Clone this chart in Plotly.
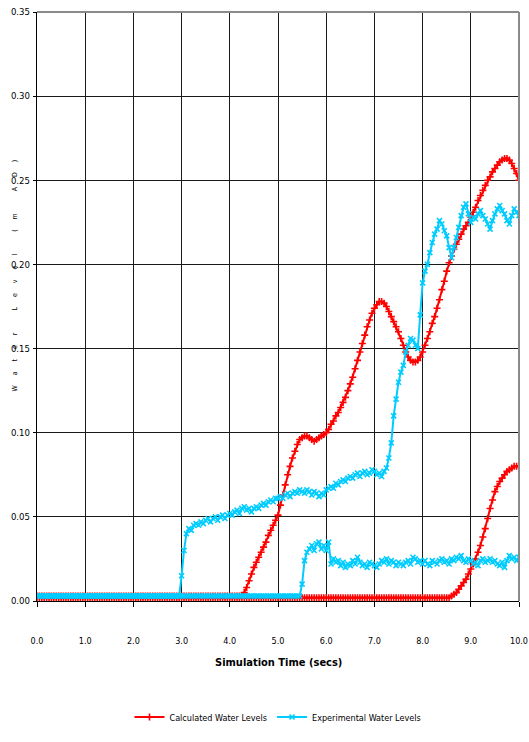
import plotly.graph_objects as go

# Simulation time axis (seconds), 0.05 s steps
time_s = [round(i * 0.05, 2) for i in range(201)]

# Calculated water levels (m AD) at the two gauges
calc_gauge_1 = [0.003] * 86 + [
    0.005, 0.008, 0.012, 0.016, 0.020, 0.023, 0.026, 0.029, 0.032, 0.035,  # 4.30-4.75
    0.039, 0.042, 0.045, 0.048, 0.051, 0.057, 0.063, 0.069, 0.075, 0.080,  # 4.80-5.25
    0.085, 0.089, 0.093, 0.096, 0.097, 0.098, 0.098, 0.097, 0.096, 0.095,  # 5.30-5.75
    0.096, 0.097, 0.098, 0.099, 0.100, 0.102, 0.105, 0.107, 0.110, 0.112,  # 5.80-6.25
    0.115, 0.118, 0.121, 0.125, 0.129, 0.133, 0.138, 0.143, 0.148, 0.153,  # 6.30-6.75
    0.158, 0.163, 0.167, 0.171, 0.174, 0.176, 0.178, 0.178, 0.177, 0.175,  # 6.80-7.25
    0.172, 0.169, 0.166, 0.163, 0.160, 0.156, 0.152, 0.148, 0.145, 0.143,  # 7.30-7.75
    0.142, 0.142, 0.143, 0.145, 0.148, 0.152, 0.156, 0.160, 0.165, 0.169,  # 7.80-8.25
    0.174, 0.179, 0.185, 0.190, 0.196, 0.201, 0.205, 0.209, 0.212, 0.215,  # 8.30-8.75
    0.218, 0.221, 0.223, 0.225, 0.228, 0.231, 0.234, 0.238, 0.241, 0.244,  # 8.80-9.25
    0.247, 0.250, 0.252, 0.255, 0.257, 0.259, 0.261, 0.262, 0.263, 0.263,  # 9.30-9.75
    0.262, 0.260, 0.257, 0.254, 0.250,                                     # 9.80-10.00
]
calc_gauge_2 = [0.002] * 171 + [
    0.002, 0.003, 0.004, 0.005, 0.007, 0.009, 0.011, 0.013, 0.016, 0.019,  # 8.55-9.00
    0.022, 0.025, 0.029, 0.033, 0.038, 0.043, 0.049, 0.055, 0.060, 0.065,  # 9.05-9.50
    0.068, 0.071, 0.073, 0.075, 0.077, 0.078, 0.079, 0.080, 0.080, 0.080,  # 9.55-10.00
]

# Experimental (measured) water levels (m AD) at the same gauges
exp_gauge_1 = [0.003] * 60 + [
    0.015, 0.030, 0.040, 0.043, 0.042, 0.045, 0.046, 0.045, 0.047, 0.046,  # 3.00-3.45
    0.048, 0.049, 0.047, 0.049, 0.050, 0.048, 0.050, 0.051, 0.049, 0.051,  # 3.50-3.95
    0.052, 0.051, 0.053, 0.054, 0.052, 0.055, 0.056, 0.054, 0.055, 0.053,  # 4.00-4.45
    0.055, 0.056, 0.055, 0.057, 0.058, 0.057, 0.059, 0.060, 0.059, 0.061,  # 4.50-4.95
    0.061, 0.062, 0.061, 0.063, 0.064, 0.062, 0.064, 0.065, 0.064, 0.066,  # 5.00-5.45
    0.065, 0.064, 0.066, 0.065, 0.063, 0.065, 0.064, 0.062, 0.064, 0.063,  # 5.50-5.95
    0.066, 0.067, 0.068, 0.067, 0.070, 0.069, 0.071, 0.072, 0.071, 0.073,  # 6.00-6.45
    0.074, 0.073, 0.075, 0.076, 0.074, 0.076, 0.077, 0.075, 0.076, 0.078,  # 6.50-6.95
    0.077, 0.075, 0.076, 0.074, 0.077, 0.079, 0.085, 0.094, 0.110, 0.120,  # 7.00-7.45
    0.130, 0.136, 0.140, 0.148, 0.152, 0.156, 0.155, 0.152, 0.150, 0.170,  # 7.50-7.95
    0.189, 0.196, 0.200, 0.207, 0.213, 0.218, 0.221, 0.226, 0.224, 0.220,  # 8.00-8.45
    0.217, 0.210, 0.204, 0.210, 0.216, 0.222, 0.229, 0.234, 0.236, 0.230,  # 8.50-8.95
    0.225, 0.228, 0.227, 0.230, 0.232, 0.229, 0.227, 0.224, 0.221, 0.226,  # 9.00-9.45
    0.230, 0.233, 0.235, 0.232, 0.230, 0.226, 0.224, 0.229, 0.233, 0.231,  # 9.50-9.95
    0.229,                                                                 # 10.00
]
exp_gauge_2 = [0.003] * 110 + [
    0.010, 0.024, 0.029, 0.031, 0.033, 0.030, 0.034, 0.035, 0.031, 0.033,  # 5.50-5.95
    0.030, 0.035, 0.022, 0.025, 0.023, 0.024, 0.021, 0.023, 0.020, 0.022,  # 6.00-6.45
    0.021, 0.024, 0.022, 0.026, 0.023, 0.021, 0.022, 0.020, 0.023, 0.022,  # 6.50-6.95
    0.021, 0.020, 0.022, 0.024, 0.023, 0.025, 0.022, 0.024, 0.023, 0.021,  # 7.00-7.45
    0.023, 0.022, 0.021, 0.023, 0.024, 0.022, 0.026, 0.025, 0.023, 0.024,  # 7.50-7.95
    0.022, 0.024, 0.022, 0.021, 0.024, 0.023, 0.022, 0.024, 0.025, 0.023,  # 8.00-8.45
    0.024, 0.022, 0.025, 0.024, 0.026, 0.025, 0.027, 0.024, 0.023, 0.025,  # 8.50-8.95
    0.024, 0.022, 0.023, 0.021, 0.024, 0.025, 0.023, 0.024, 0.025, 0.023,  # 9.00-9.45
    0.024, 0.022, 0.021, 0.023, 0.020, 0.024, 0.027, 0.025, 0.026, 0.024,  # 9.50-9.95
    0.026,                                                                 # 10.00
]

for series in (calc_gauge_1, calc_gauge_2, exp_gauge_1, exp_gauge_2):
    assert len(series) == len(time_s), len(series)

calc_name = "Calculated Water Levels"
exp_name = "Experimental Water Levels"
x_title = "Simulation Time (secs)"
y_title = "Water Level (m AD)"

RED = "#ff0000"
CYAN = "#00ccff"
FONT = "DejaVu Sans Condensed, Liberation Sans Narrow, Arial Narrow, sans-serif"

fig = go.Figure()


def add_series(y, name, color, symbol, show):
    fig.add_trace(go.Scatter(
        x=time_s, y=y, name=name, legendgroup=name, showlegend=show,
        mode="lines+markers",
        line=dict(color=color, width=2),
        marker=dict(symbol=symbol, size=5, color=color,
                    line=dict(color=color, width=1.6)),
    ))


add_series(calc_gauge_1, calc_name, RED, "cross-thin", True)
add_series(calc_gauge_2, calc_name, RED, "cross-thin", False)
add_series(exp_gauge_1, exp_name, CYAN, "x-thin", True)
add_series(exp_gauge_2, exp_name, CYAN, "x-thin", False)

fig.update_xaxes(
    range=[0, 10], dtick=1, tickformat=".1f", automargin=False,
    showgrid=True, gridcolor="#1a1a1a", gridwidth=1.3,
    showline=True, linecolor="#000000", linewidth=1.3,
    ticks="outside", ticklen=5, tickcolor="#000000",
    ticklabelstandoff=26, ticklabeloverflow="allow",
    tickfont=dict(family=FONT, size=9, color="#000000"), zeroline=False,
)
fig.update_yaxes(
    range=[0, 0.35], dtick=0.05, tickformat=".2f", automargin=False,
    showgrid=True, gridcolor="#1a1a1a", gridwidth=1.3,
    showline=True, linecolor="#000000", linewidth=1.3,
    ticks="outside", ticklen=3, tickcolor="#000000",
    ticklabelstandoff=1, tickfont=dict(family=FONT, size=9.5, color="#000000"),
    zeroline=False,
)

# Light grey frame along the top and right edges of the plot area
fig.add_shape(type="line", xref="paper", yref="paper", x0=0, x1=1, y0=1, y1=1,
              line=dict(color="#8a8a8a", width=2))
fig.add_shape(type="line", xref="paper", yref="paper", x0=1, x1=1, y0=0, y1=1,
              line=dict(color="#8a8a8a", width=2))

# Horizontal axis caption
fig.add_annotation(
    text="<b>" + x_title + "</b>", xref="paper", yref="paper", x=0.5, y=-0.104,
    xanchor="center", yanchor="middle", showarrow=False,
    font=dict(family=FONT, size=11, color="#000000"),
)

# Vertical axis caption, widely letter-spaced
spaced = "\u00a0\u00a0\u00a0\u00a0\u00a0".join(list(y_title.replace(" ", "\u00a0")))
fig.add_annotation(
    text=spaced, xref="paper", yref="paper", x=-0.045, y=0.553,
    xanchor="center", yanchor="middle", textangle=-90, showarrow=False,
    font=dict(family=FONT, size=7, color="#000000"),
)

fig.update_layout(
    width=529, height=742,
    margin=dict(l=37, r=10, t=12, b=127),
    paper_bgcolor="#ffffff", plot_bgcolor="#ffffff",
    showlegend=True,
    legend=dict(
        orientation="h", x=0.5, xanchor="center", y=-0.197, yanchor="middle",
        font=dict(family=FONT, size=9, color="#000000"),
        itemwidth=30, tracegroupgap=0, bgcolor="rgba(0,0,0,0)",
    ),
)

fig.write_html("out.html")
